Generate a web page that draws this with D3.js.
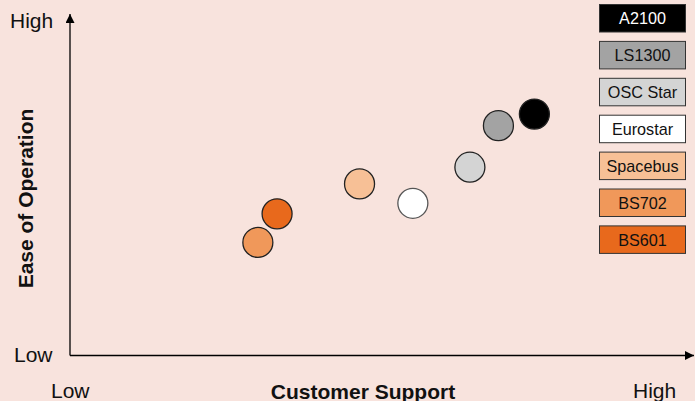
<!DOCTYPE html>
<html>
<head>
<meta charset="utf-8">
<script src="https://cdn.jsdelivr.net/npm/d3@7"></script>
<style>
  html, body { margin: 0; padding: 0; background: #f8e3dd; }
  svg { display: block; font-family: "Liberation Sans", Arial, sans-serif; }
</style>
</head>
<body>
<svg id="chart" width="695" height="401"></svg>
<script>
// Products, positions on a 0-10 qualitative scale, and fills
const products = ['A2100', 'LS1300', 'OSC Star', 'Eurostar', 'Spacebus', 'BS702', 'BS601'];
const support = [7.49, 6.91, 6.45, 5.53, 4.67, 3.03, 3.34];
const ease = [7.09, 6.75, 5.53, 4.47, 5.04, 3.32, 4.16];
const fills = ['#000000', '#a3a3a3', '#d4d4d4', '#ffffff', '#f7c096', '#f0985a', '#e8691c'];
const textFills = ['#ffffff', '#111111', '#111111', '#111111', '#111111', '#111111', '#111111'];

const svg = d3.select('#chart');
const x = d3.scaleLinear().domain([0, 10]).range([70, 690]);
const y = d3.scaleLinear().domain([0, 10]).range([355.5, 15]);

// arrow head
svg.append('defs').append('marker')
  .attr('id', 'arrow')
  .attr('viewBox', '0 0 10 10')
  .attr('refX', 10).attr('refY', 5)
  .attr('markerWidth', 10).attr('markerHeight', 9)
  .attr('markerUnits', 'userSpaceOnUse')
  .attr('orient', 'auto')
  .append('path').attr('d', 'M0,0L10,5L0,10z').attr('fill', '#000');

// axes
svg.append('line')
  .attr('x1', x(0)).attr('y1', y(0)).attr('x2', x(0)).attr('y2', 14)
  .attr('stroke', '#000').attr('stroke-width', 1.3).attr('marker-end', 'url(#arrow)');
svg.append('line')
  .attr('x1', x(0)).attr('y1', y(0)).attr('x2', 694).attr('y2', y(0))
  .attr('stroke', '#000').attr('stroke-width', 1.3).attr('marker-end', 'url(#arrow)');

// end labels
const lbl = (tx, ty, t, anchor) => svg.append('text')
  .attr('x', tx).attr('y', ty).attr('text-anchor', anchor || 'start')
  .attr('font-size', 21).attr('fill', '#111').text(t);
lbl(10, 28, 'High');
lbl(14, 362, 'Low');
lbl(51, 398, 'Low');
lbl(633, 398, 'High');

svg.append('text')
  .attr('x', 363).attr('y', 399).attr('text-anchor', 'middle')
  .attr('font-size', 21).attr('font-weight', 'bold').attr('fill', '#111')
  .text('Customer Support');
svg.append('text')
  .attr('transform', 'translate(33,198.5) rotate(-90)')
  .attr('text-anchor', 'middle')
  .attr('font-size', 21).attr('font-weight', 'bold').attr('fill', '#111')
  .text('Ease of Operation');

// points
svg.append('g')
  .selectAll('circle')
  .data(products)
  .join('circle')
  .attr('cx', (d, i) => x(support[i]))
  .attr('cy', (d, i) => y(ease[i]))
  .attr('r', 15)
  .attr('fill', (d, i) => fills[i])
  .attr('stroke', (d, i) => i === 3 ? '#555' : '#222')
  .attr('stroke-width', 1.3);

// legend
const legend = svg.append('g')
  .selectAll('g')
  .data(products)
  .join('g')
  .attr('transform', (d, i) => `translate(599.5,${4.5 + i * 36.9})`);
legend.append('rect')
  .attr('width', 86).attr('height', 27.5)
  .attr('fill', (d, i) => fills[i])
  .attr('stroke', '#333').attr('stroke-width', 1);
legend.append('text')
  .attr('x', 43).attr('y', 19.8).attr('text-anchor', 'middle')
  .attr('font-size', 16.2)
  .attr('fill', (d, i) => textFills[i])
  .text(d => d);
</script>
</body>
</html>
